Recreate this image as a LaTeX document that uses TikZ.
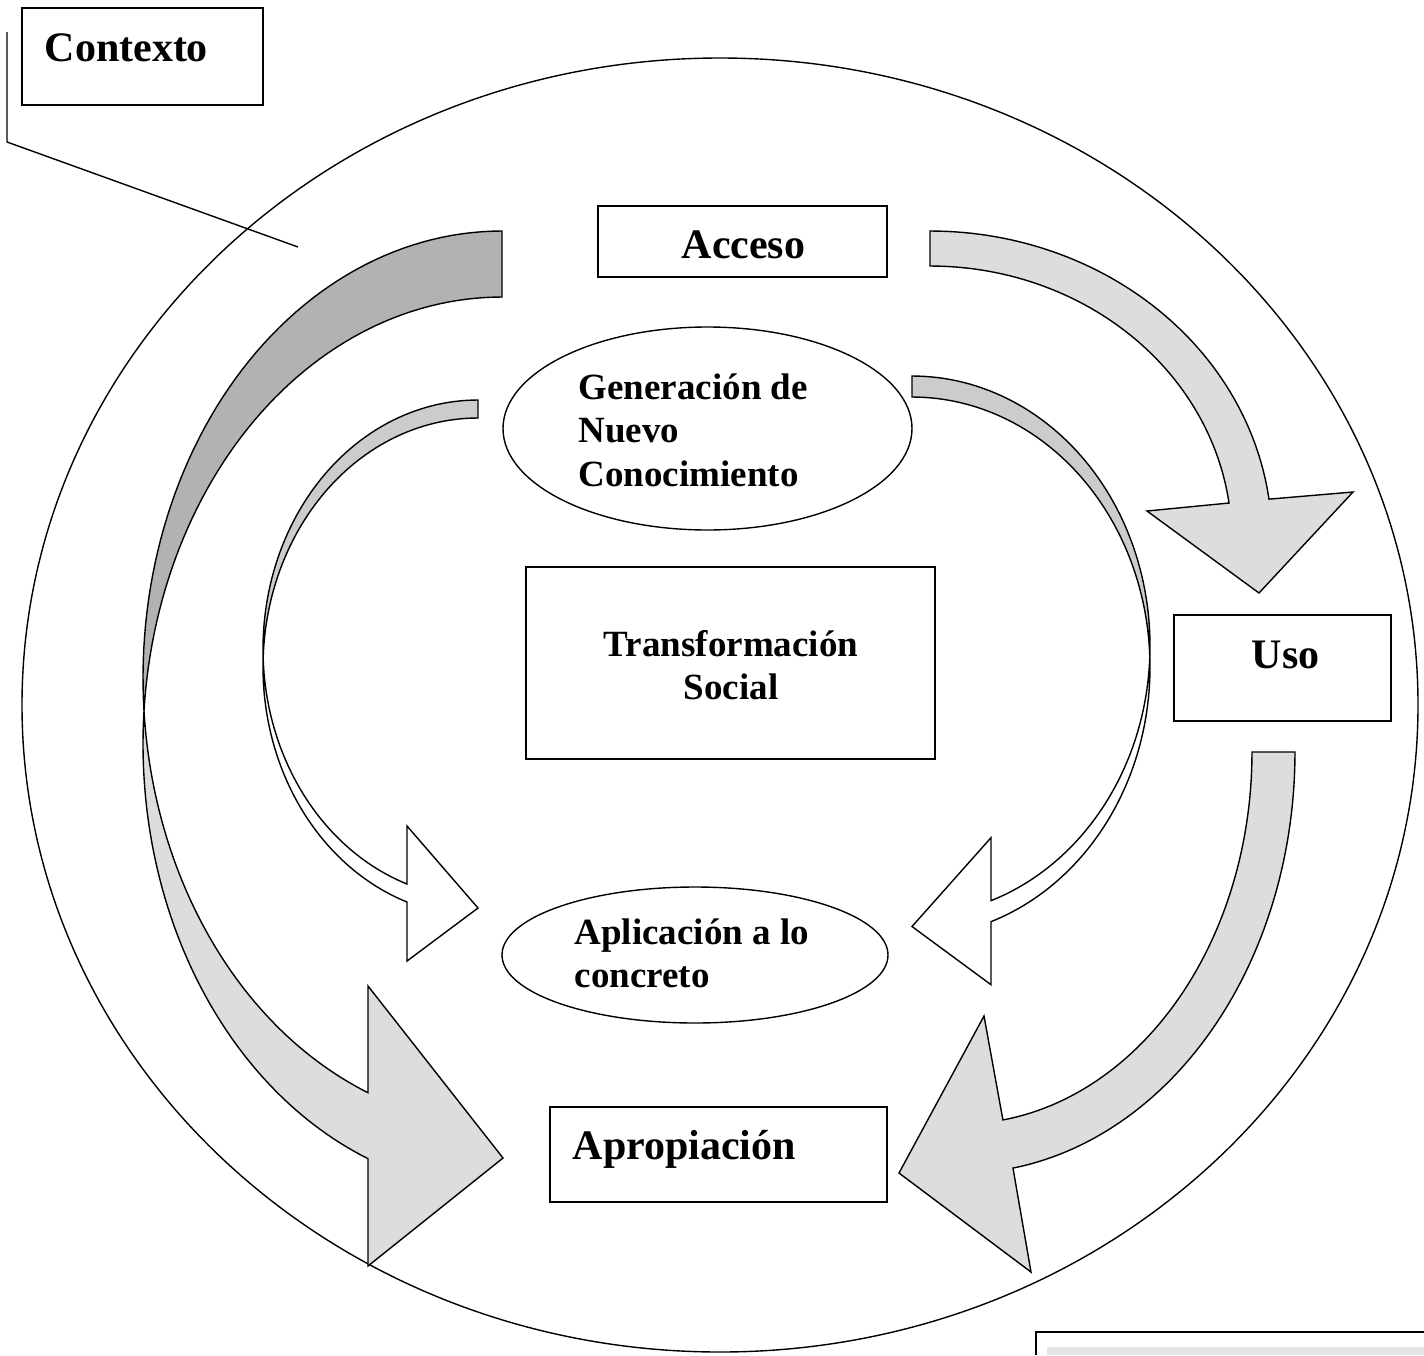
\documentclass[tikz,border=0pt]{standalone}
\usepackage{fontspec}
\setmainfont{Liberation Serif}
\usetikzlibrary{shapes.geometric,fit}
\definecolor{backdark}{HTML}{B2B2B2}
\definecolor{facelight}{HTML}{DDDDDD}
\definecolor{backlight}{HTML}{CCCCCC}
\definecolor{capgray}{HTML}{E5E5E5}
\begin{document}
\begin{tikzpicture}[x=0.5pt,y=-0.5pt, line width=0.7pt, line join=miter,
  box/.style={draw, rectangle, inner sep=0pt},
  oval/.style={draw, ellipse, inner sep=0pt},
  lbl/.style={inner sep=0pt, font=\fontsize{21}{25}\selectfont\bfseries},
  lblsm/.style={inner sep=0pt, font=\fontsize{18.5}{22}\selectfont\bfseries},
  darkface/.style={draw, fill=backdark},
  lightface/.style={draw, fill=facelight},
  greyback/.style={draw, fill=backlight},
  whiteface/.style={draw, fill=white},
  arcs/.style={samples=60, variable=\t}]
\fill[white] (0,0) rectangle (1424,1355);
\useasboundingbox (0,0) rectangle (1424,1355);

% big context circle
\draw (720,705) ellipse [x radius=698, y radius=647];

% Contexto callout
\node[box, fit={(22,8) (263,105)}] (ctxbox) {};
\node[lbl, anchor=base west] (ctx) at (44,61.5) {Contexto};
\coordinate (c1) at (7,32);
\coordinate (c2) at (7,142);
\coordinate (c3) at (298,247);
\draw (c1) -- (c2) -- (c3);

% boxes
\node[box, fit={(598,206) (887,277)}] (accbox) {};
\node[lbl, anchor=base west] (acc) at (681,258) {Acceso};

\node[box, fit={(526,567) (935,759)}] (trbox) {};
\node[lblsm, anchor=base] (tr1) at (731,656) {Transformación};
\node[lblsm, anchor=base] (tr2) at (731,699.5) {Social};

\node[box, fit={(1174,615) (1391,721)}] (usobox) {};
\node[lbl, anchor=base west] (uso) at (1251,668) {Uso};

\node[box, fit={(550,1107) (887,1202)}] (apbox) {};
\node[lbl, anchor=base west] (ap) at (572,1159) {Apropiación};

% ellipses
\node[oval, minimum width=204.5pt, minimum height=101.5pt] (genov) at (707.5,428.5) {};
\node[lblsm, anchor=base west] (g1) at (578,399) {Generación de};
\node[lblsm, anchor=base west] (g2) at (578,442.5) {Nuevo};
\node[lblsm, anchor=base west] (g3) at (578,486) {Conocimiento};

\node[oval, minimum width=193pt, minimum height=68pt] (aplov) at (695,955) {};
\node[lblsm, anchor=base west] (a1) at (574,944) {Aplicación a lo};
\node[lblsm, anchor=base west] (a2) at (574,987) {concreto};

% L1: big left curved arrow (back face dark, front face light)
\filldraw[darkface] (502,231)
  -- plot[arcs, domain=270:175.77] ({502+359*cos(\t)},{678+447*sin(\t)})
  -- plot[arcs, domain=184.23:270] ({502+359*cos(\t)},{744+447*sin(\t)})
  -- cycle;
\filldraw[lightface] plot[arcs, domain=184.23:111.92] ({502+359*cos(\t)},{744+447*sin(\t)})
  -- (368,1266) -- (503,1158) -- (368,986)
  -- plot[arcs, domain=111.92:175.77] ({502+359*cos(\t)},{678+447*sin(\t)})
  -- cycle;

% L2: inner left curved arrow
\filldraw[greyback] (478,400)
  -- plot[arcs, domain=270:177.93] ({478+215*cos(\t)},{649+249*sin(\t)})
  -- plot[arcs, domain=182.07:270] ({478+215*cos(\t)},{667+249*sin(\t)})
  -- cycle;
\filldraw[whiteface] plot[arcs, domain=182.07:109.28] ({478+215*cos(\t)},{667+249*sin(\t)})
  -- (407,961) -- (478,908) -- (407,826)
  -- plot[arcs, domain=109.28:177.93] ({478+215*cos(\t)},{649+249*sin(\t)})
  -- cycle;

% R3: inner right curved arrow (mirrored)
\filldraw[greyback] (912,376)
  -- plot[arcs, domain=270:362.23] ({912+238*cos(\t)},{646+270*sin(\t)})
  -- plot[arcs, domain=357.77:270] ({912+238*cos(\t)},{667+270*sin(\t)})
  -- cycle;
\filldraw[whiteface] plot[arcs, domain=-2.23:70.61] ({912+238*cos(\t)},{667+270*sin(\t)})
  -- (991,984.7) -- (912,926.5) -- (991,837.7)
  -- plot[arcs, domain=70.61:2.23] ({912+238*cos(\t)},{646+270*sin(\t)})
  -- cycle;

% R1: Acceso -> Uso
\filldraw[lightface] (930,231)
  -- plot[arcs, domain=270:352.4] ({930+342*cos(\t)},{540+309*sin(\t)})
  -- (1353,492) -- (1259,593) -- (1147,511)
  -- plot[arcs, domain=352.24:270] ({930+301.8*cos(\t)},{540+274*sin(\t)})
  -- cycle;

% R2: Uso -> Apropiacion
\filldraw[lightface] (1252,752)
  -- plot[arcs, domain=0:80.9] ({960+335*cos(\t)},{752+421.4*sin(\t)})
  -- (1031,1272) -- (899,1173) -- (984,1016)
  -- plot[arcs, domain=81.55:0] ({960+292*cos(\t)},{752+372*sin(\t)})
  -- cycle;

% caption box (cut off at the page edge)
\fill[capgray] (1047,1347) rectangle (1424,1355);
\coordinate (cp1) at (1036,1355);
\coordinate (cp2) at (1036,1332);
\coordinate (cp3) at (1424,1332);
\draw[line width=1pt] (cp1) -- (cp2) -- (cp3);
\end{tikzpicture}
\end{document}
